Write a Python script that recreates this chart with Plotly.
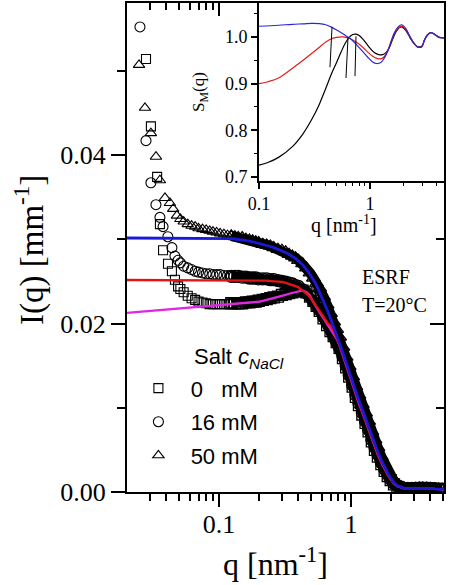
import plotly.graph_objects as go

# ---------------- main panel: measured I(q) ----------------
# sparse low-q points
q_low_0 = [0.028, 0.0305, 0.034, 0.0357, 0.0377, 0.0411, 0.0440, 0.0464, 0.0490]
I_low_0 = [0.0514, 0.0434, 0.0374, 0.0318, 0.0287, 0.0271, 0.0262, 0.0252, 0.0244]

q_low_16 = [0.0252, 0.0280, 0.0305, 0.0333, 0.0357, 0.0377, 0.0410, 0.0440, 0.0464, 0.0490]
I_low_16 = [0.0552, 0.0417, 0.0367, 0.0341, 0.0326, 0.0315, 0.0303, 0.0290, 0.0280, 0.0275]

q_low_50 = [0.0248, 0.0275, 0.0305, 0.0333, 0.0357, 0.0390, 0.0425, 0.0450, 0.0480]
I_low_50 = [0.0507, 0.0456, 0.0426, 0.0398, 0.0370, 0.0349, 0.0343, 0.0336, 0.0328]

# dense detector region (shared q values)
q_grid = [0.051, 0.054, 0.058, 0.062, 0.066, 0.070, 0.075, 0.080, 0.085, 0.090,
          0.096, 0.102, 0.109, 0.116, 0.124, 0.132, 0.140, 0.150, 0.160, 0.170,
          0.180, 0.190, 0.200, 0.215, 0.230, 0.245, 0.260, 0.280, 0.300, 0.320,
          0.340, 0.360, 0.380, 0.400, 0.430, 0.460, 0.490, 0.520, 0.550, 0.580,
          0.620, 0.660, 0.700, 0.740, 0.780, 0.820, 0.870, 0.920, 0.970, 1.030,
          1.090, 1.150, 1.220, 1.290, 1.360, 1.440, 1.520, 1.600, 1.700, 1.800,
          1.900, 2.000, 2.120, 2.250, 2.400, 2.550, 2.700, 2.900, 3.100, 3.300,
          3.500, 3.750, 4.000, 4.300, 4.600, 4.900]

I_0mM = [0.0241, 0.0237, 0.0233, 0.0230, 0.0228, 0.0226, 0.0225, 0.0224, 0.0223, 0.0223,
         0.0223, 0.0223, 0.0223, 0.0223, 0.0224, 0.0224, 0.0224, 0.0224, 0.0225, 0.0225,
         0.0226, 0.0226, 0.0227, 0.0228, 0.0229, 0.0230, 0.0231, 0.0232, 0.0234, 0.0235,
         0.0236, 0.0237, 0.0238, 0.0239, 0.0239, 0.0237, 0.0232, 0.0227, 0.0221, 0.0215,
         0.0206, 0.0198, 0.0191, 0.0185, 0.0178, 0.0171, 0.0159, 0.0148, 0.0137, 0.0125,
         0.0113, 0.0103, 0.0092, 0.0082, 0.0072, 0.0060, 0.0050, 0.0042, 0.0033, 0.0025,
         0.0019, 0.0014, 0.0009, 0.0006, 0.0004, 0.00037, 0.00038, 0.0004, 0.00043, 0.00046,
         0.00047, 0.00045, 0.00042, 0.00038, 0.00035, 0.00033]

I_16mM = [0.0272, 0.0268, 0.0266, 0.0264, 0.0262, 0.0261, 0.0260, 0.0259, 0.0259, 0.0258,
          0.0258, 0.0258, 0.0257, 0.0257, 0.0256, 0.0256, 0.0256, 0.0255, 0.0255, 0.0254,
          0.0254, 0.0254, 0.0253, 0.0253, 0.0253, 0.0252, 0.0252, 0.0251, 0.0250, 0.0249,
          0.0248, 0.0247, 0.0245, 0.0244, 0.0240, 0.0236, 0.0232, 0.0226, 0.0221, 0.0216,
          0.0208, 0.0201, 0.0194, 0.0188, 0.0181, 0.0173, 0.0161, 0.0150, 0.0139, 0.0127,
          0.0115, 0.0105, 0.0094, 0.0084, 0.0074, 0.0062, 0.0053, 0.0045, 0.0035, 0.0027,
          0.0021, 0.0015, 0.0010, 0.0007, 0.0005, 0.0004, 0.00039, 0.0004, 0.00043, 0.00046,
          0.00047, 0.00045, 0.00042, 0.00038, 0.00035, 0.00033]

I_50mM = [0.0324, 0.0321, 0.0318, 0.0316, 0.0315, 0.0313, 0.0312, 0.0311, 0.0310, 0.0309,
          0.0308, 0.0307, 0.0306, 0.0305, 0.0304, 0.0303, 0.0302, 0.0302, 0.0300, 0.0299,
          0.0298, 0.0297, 0.0296, 0.0294, 0.0293, 0.0292, 0.0290, 0.0288, 0.0287, 0.0285,
          0.0282, 0.0280, 0.0278, 0.0275, 0.0271, 0.0266, 0.0260, 0.0254, 0.0248, 0.0242,
          0.0232, 0.0222, 0.0212, 0.0202, 0.0193, 0.0184, 0.0172, 0.0160, 0.0149, 0.0137,
          0.0125, 0.0115, 0.0104, 0.0094, 0.0084, 0.0072, 0.0062, 0.0053, 0.0042, 0.0033,
          0.0026, 0.0019, 0.0013, 0.0009, 0.00062, 0.00048, 0.0004, 0.0004, 0.00043, 0.00046,
          0.00047, 0.00045, 0.00042, 0.00038, 0.00035, 0.00033]

# fitted curves
q_fit = [0.0201, 0.030, 0.040] + q_grid + [5.07]

fit_0mM = [0.02125, 0.02147, 0.02163,
           0.02177, 0.02179, 0.02184, 0.02187, 0.02191, 0.02193, 0.02198, 0.02202, 0.02205, 0.02208,
           0.02211, 0.02215, 0.02218, 0.02222, 0.02227, 0.02230, 0.02234, 0.02237, 0.02242, 0.02246,
           0.02249, 0.02253, 0.02258, 0.02269, 0.02280, 0.02291, 0.02299, 0.02313, 0.02328, 0.02341,
           0.02353, 0.02363, 0.02376, 0.02386, 0.02392, 0.02370, 0.02330, 0.02250, 0.02180, 0.02130,
           0.02060, 0.01995, 0.01935, 0.01880, 0.01818, 0.01738, 0.01615, 0.01501, 0.01391, 0.01269,
           0.01155, 0.01050, 0.00945, 0.00842, 0.00744, 0.00624, 0.00523, 0.00442, 0.00350, 0.00268,
           0.00205, 0.00150, 0.00100, 0.00070, 0.00051, 0.00040, 0.00039, 0.00040, 0.00043, 0.00046,
           0.00047, 0.00045, 0.00042, 0.00038, 0.00035, 0.00033,
           0.00032]

fit_16mM = [0.02516, 0.02516, 0.02516,
            0.02516, 0.02516, 0.02516, 0.02516, 0.02516, 0.02516, 0.02516, 0.02516, 0.02516, 0.02516,
            0.02516, 0.02516, 0.02516, 0.02516, 0.02516, 0.02516, 0.02516, 0.02516, 0.02516, 0.02516,
            0.02516, 0.02516, 0.02516, 0.02512, 0.02508, 0.02504, 0.02501, 0.02496, 0.02493, 0.02481,
            0.02471, 0.02458, 0.02444, 0.02430, 0.02396, 0.02356, 0.02313, 0.02256, 0.02203, 0.02152,
            0.02078, 0.02010, 0.01970, 0.01910, 0.01830, 0.01745, 0.01620, 0.01506, 0.01396, 0.01274,
            0.01160, 0.01055, 0.00950, 0.00847, 0.00749, 0.00629, 0.00528, 0.00447, 0.00355, 0.00273,
            0.00210, 0.00154, 0.00103, 0.00072, 0.00052, 0.00041, 0.00039, 0.00040, 0.00043, 0.00046,
            0.00047, 0.00045, 0.00042, 0.00038, 0.00035, 0.00033,
            0.00032]

fit_50mM = [0.03015, 0.03015, 0.03015,
            0.03015, 0.03015, 0.03015, 0.03015, 0.03015, 0.03015, 0.03015, 0.03015, 0.03015, 0.03015,
            0.03015, 0.03015, 0.03015, 0.03012, 0.03008, 0.03003, 0.02999, 0.02995, 0.02989, 0.02979,
            0.02970, 0.02961, 0.02953, 0.02939, 0.02926, 0.02914, 0.02900, 0.02881, 0.02863, 0.02844,
            0.02819, 0.02796, 0.02773, 0.02742, 0.02698, 0.02644, 0.02583, 0.02518, 0.02449, 0.02370,
            0.02262, 0.02164, 0.02060, 0.01961, 0.01865, 0.01771, 0.01650, 0.01536, 0.01426, 0.01304,
            0.01190, 0.01085, 0.00980, 0.00877, 0.00779, 0.00659, 0.00558, 0.00475, 0.00379, 0.00293,
            0.00226, 0.00166, 0.00110, 0.00077, 0.00055, 0.00043, 0.00040, 0.00040, 0.00043, 0.00046,
            0.00047, 0.00045, 0.00042, 0.00038, 0.00035, 0.00033,
            0.00032]

# ---------------- inset: S_M(q) ----------------
q_S_blue = [0.1, 0.15, 0.2, 0.25, 0.3, 0.35, 0.4, 0.45, 0.5, 0.55, 0.6, 0.66, 0.75, 0.85, 0.95,
            1.05, 1.15, 1.25, 1.35, 1.45, 1.55, 1.65, 1.8, 1.93, 2.1, 2.3, 2.5, 2.7, 2.93, 3.1,
            3.3, 3.55, 3.9, 4.2, 4.64]
S_blue = [1.0228, 1.025, 1.027, 1.028, 1.029, 1.0285, 1.026, 1.021, 1.015, 1.009, 1.003, 0.997, 0.984,
          0.970, 0.957, 0.947, 0.943, 0.945, 0.955, 0.970, 0.990, 1.008, 1.022, 1.026, 1.018, 1.000,
          0.986, 0.978, 0.979, 0.993, 1.004, 1.009, 1.004, 0.999, 0.998]

q_S_red = [0.1, 0.12, 0.15, 0.2, 0.25, 0.3, 0.35, 0.4, 0.45, 0.5, 0.57, 0.65, 0.75, 0.85, 0.95,
           1.05, 1.15, 1.25, 1.35, 1.45, 1.55, 1.65, 1.8, 1.93, 2.1, 2.3, 2.5, 2.7, 2.93, 3.1,
           3.3, 3.55, 3.9, 4.2, 4.64]
S_red = [0.900, 0.904, 0.912, 0.933, 0.950, 0.965, 0.978, 0.989, 0.996, 0.999, 1.000, 0.997, 0.989,
         0.979, 0.968, 0.959, 0.954, 0.953, 0.958, 0.972, 0.990, 1.006, 1.019, 1.023, 1.016, 1.000,
         0.986, 0.978, 0.979, 0.993, 1.004, 1.009, 1.004, 0.999, 0.998]

q_S_black = [0.1, 0.12, 0.15, 0.2, 0.25, 0.3, 0.35, 0.4, 0.45, 0.5, 0.55, 0.6, 0.65, 0.7, 0.75,
             0.8, 0.9, 1.0, 1.1, 1.2, 1.3, 1.4, 1.5, 1.6, 1.7, 1.85, 1.95, 2.1, 2.3, 2.5, 2.7,
             2.93, 3.1, 3.3, 3.55, 3.9, 4.2, 4.64]
S_black = [0.7255, 0.731, 0.742, 0.765, 0.793, 0.824, 0.856, 0.890, 0.921, 0.945, 0.968, 0.987, 0.999,
           1.005, 1.006, 1.003, 0.990, 0.976, 0.966, 0.962, 0.962, 0.967, 0.978, 0.995, 1.009, 1.020,
           1.021, 1.014, 0.998, 0.985, 0.979, 0.980, 0.994, 1.005, 1.009, 1.004, 0.999, 0.998]

# peak-position strokes in the inset (q, S at top and bottom of each stroke)
peak_q_top = [0.455, 0.634, 0.748]
peak_q_bot = [0.436, 0.608, 0.733]
peak_S_top = [1.021, 0.999, 1.001]
peak_S_bot = [0.935, 0.912, 0.916]

SERIF = "Liberation Serif, Times New Roman, serif"
SANS = "Liberation Sans, Arial, sans-serif"
NB = "\u00a0"

fig = go.Figure()

SPLIT = 15  # from q = 0.132 on, the detector points merge into a solid band

# data markers
series = [
    (q_low_0, I_low_0, I_0mM, "square-open", 9, NB * 2 + "0" + NB * 3 + "mM"),
    (q_low_16, I_low_16, I_16mM, "circle-open", 10, NB * 2 + "16" + NB + "mM"),
    (q_low_50, I_low_50, I_50mM, "triangle-up-open", 10, NB * 2 + "50" + NB + "mM"),
]
for k, (q_low, I_low, I_dense, sym, size, name) in enumerate(series):
    fig.add_trace(go.Scatter(
        x=q_low + q_grid[:SPLIT], y=I_low + I_dense[:SPLIT], mode="markers", name=name,
        legendgroup="g%d" % k,
        marker=dict(symbol=sym, size=size, color="black", line=dict(width=1.1, color="black")),
        hoverinfo="skip"))
for k, (q_low, I_low, I_dense, sym, size, name) in enumerate(series):
    fig.add_trace(go.Scatter(
        x=q_grid[SPLIT - 1:], y=I_dense[SPLIT - 1:], mode="lines+markers", showlegend=False,
        line=dict(color="black", width=10),
        marker=dict(symbol=sym, size=size + 2, color="black", line=dict(width=1.3, color="black")),
        hoverinfo="skip"))

# fitted curves
for yv, col, w in [(fit_0mM, "rgb(225,40,225)", 2.3), (fit_16mM, "rgb(228,20,20)", 2.3),
                   (fit_50mM, "rgb(25,25,215)", 2.8)]:
    fig.add_trace(go.Scatter(x=q_fit, y=yv, mode="lines", line=dict(color=col, width=w),
                             showlegend=False, hoverinfo="skip"))

# inset curves
for qv, sv, col in [(q_S_black, S_black, "black"), (q_S_red, S_red, "rgb(225,30,30)"),
                    (q_S_blue, S_blue, "rgb(40,40,215)")]:
    fig.add_trace(go.Scatter(x=qv, y=sv, mode="lines", line=dict(color=col, width=1.2, shape="spline"),
                             xaxis="x2", yaxis="y2", showlegend=False, hoverinfo="skip"))
for qt, qb, st, sb in zip(peak_q_top, peak_q_bot, peak_S_top, peak_S_bot):
    fig.add_trace(go.Scatter(x=[qt, qb], y=[st, sb], mode="lines", line=dict(color="black", width=1),
                             xaxis="x2", yaxis="y2", showlegend=False, hoverinfo="skip"))

# empty trace to host the inward mirror-tick axes
fig.add_trace(go.Scatter(x=[], y=[], xaxis="x3", yaxis="y3", showlegend=False, hoverinfo="skip"))

xr = [-1.6968, 0.705]
yr = [0, 0.05804]
xminor = [0.02, 0.03, 0.04, 0.05, 0.06, 0.07, 0.08, 0.09, 0.2, 0.3, 0.4, 0.5, 0.6, 0.7, 0.8, 0.9, 2, 3, 4, 5]

fig.update_layout(
    width=450, height=585, autosize=False,
    margin=dict(l=127, r=6, t=3, b=93, autoexpand=False),
    paper_bgcolor="white", plot_bgcolor="white",
    showlegend=True,
    legend=dict(x=0.036, y=0.255, xanchor="left", yanchor="top", bgcolor="rgba(0,0,0,0)",
                font=dict(family=SANS, size=22, color="black"), itemsizing="trace",
                tracegroupgap=2, traceorder="grouped"),
    xaxis=dict(type="log", range=xr, tickvals=[0.1, 1], ticktext=["0.1", "1"],
               ticks="outside", ticklen=13, tickwidth=2, tickcolor="black",
               showline=True, linewidth=2, linecolor="black", mirror=True,
               showgrid=False, zeroline=False, automargin=False, ticklabelstandoff=-5,
               tickfont=dict(family=SERIF, size=26, color="black"),
               minor=dict(tickvals=xminor, ticks="outside", ticklen=7, tickwidth=1.6, tickcolor="black", showgrid=False)),
    yaxis=dict(range=yr, tickvals=[0, 0.02, 0.04], ticktext=["0.00", "0.02", "0.04"],
               ticks="outside", ticklen=14, tickwidth=2, tickcolor="black",
               showline=True, linewidth=2, linecolor="black", mirror=True,
               showgrid=False, zeroline=False, automargin=False,
               tickfont=dict(family=SERIF, size=26, color="black"),
               minor=dict(tickvals=[0.01, 0.03, 0.05], ticks="outside", ticklen=8, tickwidth=1.6, tickcolor="black", showgrid=False)),
    xaxis3=dict(type="log", range=xr, overlaying="x", side="top", anchor="y3", automargin=False,
                tickvals=[0.1, 1], showticklabels=False, ticks="inside", ticklen=13, tickwidth=2, tickcolor="black",
                showline=False, showgrid=False, zeroline=False,
                minor=dict(tickvals=xminor, ticks="inside", ticklen=7, tickwidth=1.6, tickcolor="black", showgrid=False)),
    yaxis3=dict(range=yr, overlaying="y", side="right", anchor="x3", automargin=False,
                tickvals=[0, 0.02, 0.04], showticklabels=False, ticks="inside", ticklen=14, tickwidth=2, tickcolor="black",
                showline=False, showgrid=False, zeroline=False,
                minor=dict(tickvals=[0.01, 0.03, 0.05], ticks="inside", ticklen=8, tickwidth=1.6, tickcolor="black", showgrid=False)),
    xaxis2=dict(type="log", domain=[0.4164, 1.0], anchor="y2", range=[-1, 0.667], automargin=False,
                tickvals=[0.1, 1], ticktext=["0.1", "1"], ticks="outside", ticklen=6, tickwidth=1.5, tickcolor="black",
                showline=True, linewidth=1.6, linecolor="black", mirror=False, showgrid=False, zeroline=False,
                tickfont=dict(family=SERIF, size=18, color="black"),
                minor=dict(tickvals=[0.2, 0.3, 0.4, 0.5, 0.6, 0.7, 0.8, 0.9, 2, 3, 4], ticks="outside",
                           ticklen=3.5, tickwidth=1.2, tickcolor="black", showgrid=False)),
    yaxis2=dict(domain=[0.636, 1.0], anchor="x2", range=[0.6914, 1.0726], automargin=False,
                tickvals=[0.7, 0.8, 0.9, 1.0], ticktext=["0.7", "0.8", "0.9", "1.0"],
                ticks="outside", ticklen=6, tickwidth=1.5, tickcolor="black",
                showline=True, linewidth=1.6, linecolor="black", mirror=False, showgrid=False, zeroline=False,
                tickfont=dict(family=SERIF, size=18, color="black"),
                title=dict(text="S<sub>M</sub>(q)", font=dict(family=SERIF, size=17, color="black"), standoff=16),
                minor=dict(tickvals=[0.75, 0.85, 0.95, 1.05], ticks="outside",
                           ticklen=3.5, tickwidth=1.2, tickcolor="black", showgrid=False)),
)

ann = [
    dict(text="I(q) [mm<sup>-1</sup>]", x=-0.306, y=0.495, textangle=-90,
         font=dict(family=SERIF, size=33, color="black")),
    dict(text="q [nm<sup>-1</sup>]", x=0.467, y=-0.1431,
         font=dict(family=SERIF, size=32, color="black")),
    dict(text="q [nm<sup>-1</sup>]", x=(344 - 127) / 317, y=(492 - 224) / 489,
         font=dict(family=SERIF, size=20, color="black")),
    dict(text="ESRF", x=0.735, y=0.4397, xanchor="left",
         font=dict(family=SERIF, size=20, color="black")),
    dict(text="T=20\u00b0C", x=0.735, y=0.3824, xanchor="left",
         font=dict(family=SERIF, size=20, color="black")),
    dict(text="Salt <i>c</i><sub><i>NaCl</i></sub>", x=0.205, y=0.275, xanchor="left",
         font=dict(family=SANS, size=22, color="black")),
]
for a in ann:
    a.setdefault("xanchor", "center")
    fig.add_annotation(xref="paper", yref="paper", showarrow=False, yanchor="middle", **a)

fig.write_html("out.html", config={"displayModeBar": False},
               post_script="document.body.style.margin='0px';")
